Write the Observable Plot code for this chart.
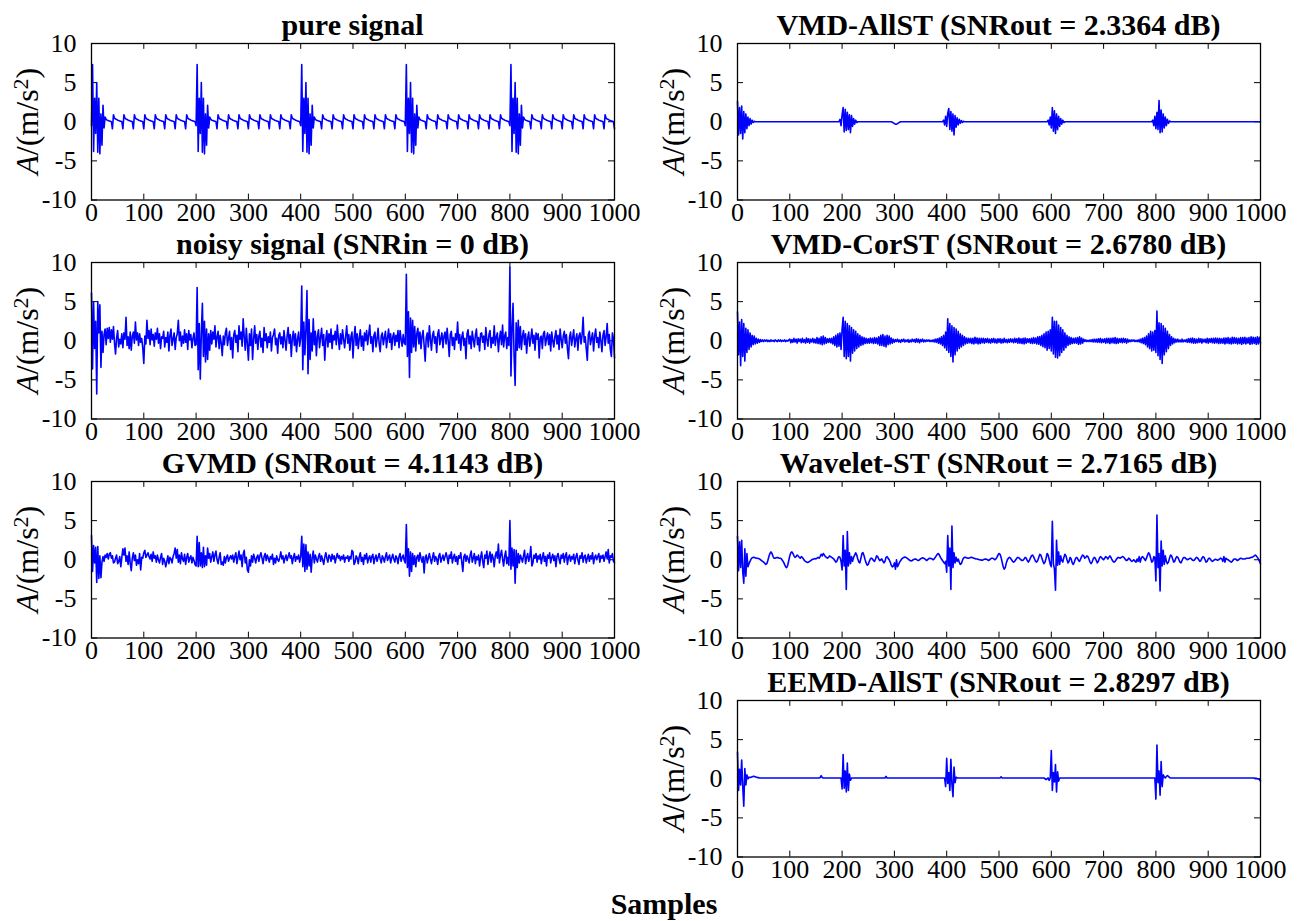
<!DOCTYPE html>
<html>
<head>
<meta charset="utf-8">
<script src="https://cdn.jsdelivr.net/npm/d3@7"></script>
<script src="https://cdn.jsdelivr.net/npm/@observablehq/plot@0.6"></script>
<style>
  body { margin: 0; background: #fff; }
  #fig { position: relative; width: 1306px; height: 921px; font-family: "Liberation Serif", "Times New Roman", serif; }
  #fig svg { position: absolute; }
  #xlabel { position: absolute; transform: translateX(-50%); white-space: nowrap; font-weight: bold; font-size: 30px; line-height: 30px; }
</style>
</head>
<body>
<div id="fig"></div>
<script>
// Axis ticks shared by every panel
const xTicks = [0, 100, 200, 300, 400, 500, 600, 700, 800, 900, 1000];
const yTicks = [-10, -5, 0, 5, 10];
// Samples are listed every 2 points, from 0 to 1000
const sampleStep = 2;

const pureSignal = [
  -0.5,7.3,-3.8,3.0,-1.5,5.0,-3.9,3.0,-4.1,1.0,-3.0,2.1,-0.8,0.6,0.3,0.2,0.15,0.1,0.05,0.0,-0.9,0.9,0.45,0.35,0.3,0.2,0.15,0.1,0.05,0.0,-0.9,0.9,0.45,0.35,0.3,0.2,0.15,0.1,0.05,0.0,-0.9,0.9,0.45,0.35,0.3,0.2,0.15,0.1,0.05,0.0,
  -0.9,0.9,0.45,0.35,0.3,0.2,0.15,0.1,0.05,0.0,-0.9,0.9,0.45,0.35,0.3,0.2,0.15,0.1,0.05,0.0,-0.9,0.9,0.45,0.35,0.3,0.2,0.15,0.1,0.05,0.0,-0.9,0.9,0.45,0.35,0.3,0.2,0.15,0.1,0.05,0.0,-0.9,0.9,0.45,0.35,0.3,0.2,0.15,0.1,0.05,0.0,
  -0.5,7.3,-3.8,3.0,-1.5,5.0,-3.9,3.0,-4.1,1.0,-3.0,2.1,-0.8,0.6,0.3,0.2,0.15,0.1,0.05,0.0,-0.9,0.9,0.45,0.35,0.3,0.2,0.15,0.1,0.05,0.0,-0.9,0.9,0.45,0.35,0.3,0.2,0.15,0.1,0.05,0.0,-0.9,0.9,0.45,0.35,0.3,0.2,0.15,0.1,0.05,0.0,
  -0.9,0.9,0.45,0.35,0.3,0.2,0.15,0.1,0.05,0.0,-0.9,0.9,0.45,0.35,0.3,0.2,0.15,0.1,0.05,0.0,-0.9,0.9,0.45,0.35,0.3,0.2,0.15,0.1,0.05,0.0,-0.9,0.9,0.45,0.35,0.3,0.2,0.15,0.1,0.05,0.0,-0.9,0.9,0.45,0.35,0.3,0.2,0.15,0.1,0.05,0.0,
  -0.5,7.3,-3.8,3.0,-1.5,5.0,-3.9,3.0,-4.1,1.0,-3.0,2.1,-0.8,0.6,0.3,0.2,0.15,0.1,0.05,0.0,-0.9,0.9,0.45,0.35,0.3,0.2,0.15,0.1,0.05,0.0,-0.9,0.9,0.45,0.35,0.3,0.2,0.15,0.1,0.05,0.0,-0.9,0.9,0.45,0.35,0.3,0.2,0.15,0.1,0.05,0.0,
  -0.9,0.9,0.45,0.35,0.3,0.2,0.15,0.1,0.05,0.0,-0.9,0.9,0.45,0.35,0.3,0.2,0.15,0.1,0.05,0.0,-0.9,0.9,0.45,0.35,0.3,0.2,0.15,0.1,0.05,0.0,-0.9,0.9,0.45,0.35,0.3,0.2,0.15,0.1,0.05,0.0,-0.9,0.9,0.45,0.35,0.3,0.2,0.15,0.1,0.05,0.0,
  -0.5,7.3,-3.8,3.0,-1.5,5.0,-3.9,3.0,-4.1,1.0,-3.0,2.1,-0.8,0.6,0.3,0.2,0.15,0.1,0.05,0.0,-0.9,0.9,0.45,0.35,0.3,0.2,0.15,0.1,0.05,0.0,-0.9,0.9,0.45,0.35,0.3,0.2,0.15,0.1,0.05,0.0,-0.9,0.9,0.45,0.35,0.3,0.2,0.15,0.1,0.05,0.0,
  -0.9,0.9,0.45,0.35,0.3,0.2,0.15,0.1,0.05,0.0,-0.9,0.9,0.45,0.35,0.3,0.2,0.15,0.1,0.05,0.0,-0.9,0.9,0.45,0.35,0.3,0.2,0.15,0.1,0.05,0.0,-0.9,0.9,0.45,0.35,0.3,0.2,0.15,0.1,0.05,0.0,-0.9,0.9,0.45,0.35,0.3,0.2,0.15,0.1,0.05,0.0,
  -0.5,7.3,-3.8,3.0,-1.5,5.0,-3.9,3.0,-4.1,1.0,-3.0,2.1,-0.8,0.6,0.3,0.2,0.15,0.1,0.05,0.0,-0.9,0.9,0.45,0.35,0.3,0.2,0.15,0.1,0.05,0.0,-0.9,0.9,0.45,0.35,0.3,0.2,0.15,0.1,0.05,0.0,-0.9,0.9,0.45,0.35,0.3,0.2,0.15,0.1,0.05,0.0,
  -0.9,0.9,0.45,0.35,0.3,0.2,0.15,0.1,0.05,0.0,-0.9,0.9,0.45,0.35,0.3,0.2,0.15,0.1,0.05,0.0,-0.9,0.9,0.45,0.35,0.3,0.2,0.15,0.1,0.05,0.0,-0.9,0.9,0.45,0.35,0.3,0.2,0.15,0.1,0.05,0.0,-0.9,0.9,0.45,0.35,0.3,0.2,0.15,0.1,0.05,0.0,
  -0.9
];

const noisySignal = [
  6.1,-3.6,4.9,-1.0,2.5,-6.8,5.0,1.0,4.6,-3.4,1.2,-1.5,0.8,1.5,-0.5,1.6,0.3,1.7,-0.2,1.4,0.2,1.8,-0.3,-1.7,0.4,1.3,-0.8,0.2,-0.4,0.9,-0.9,1.0,0.2,3.0,-0.6,0.5,-1.0,1.1,-1.2,0.6,1.1,-0.3,2.4,0.1,1.0,-0.6,0.9,-0.2,0.3,-0.9,
  -2.9,0.6,-0.4,2.6,0.3,1.3,-0.5,1.5,0.1,0.8,-0.7,1.0,0.2,1.6,-0.3,0.9,-1.0,0.5,0.3,1.2,-0.8,0.4,-0.2,1.1,-1.3,0.7,1.5,-0.6,0.2,1.0,-1.1,0.4,0.9,2.6,0.0,1.1,-0.7,0.6,-0.3,1.4,-0.2,0.9,-1.1,1.3,0.1,0.8,-0.9,0.3,1.0,-0.6,
  -0.5,6.8,-3.7,2.2,-4.9,1.0,4.8,-2.0,2.5,-2.7,1.5,-2.4,0.9,-1.2,1.3,-0.4,1.1,0.2,1.9,-0.8,0.5,1.2,-1.0,0.7,-0.3,-1.9,0.6,-0.5,1.0,1.6,-0.6,0.3,1.2,-1.1,0.4,-2.2,0.8,1.3,-0.2,0.7,-1.4,1.9,0.2,1.1,-0.7,2.8,0.5,-1.2,1.6,-0.4,
  -2.5,0.9,-0.6,1.5,-2.4,0.2,1.9,-0.3,0.8,-1.1,0.6,1.2,-0.8,0.3,-1.5,1.7,0.0,0.9,-0.9,0.5,-0.2,1.1,-1.3,0.4,0.8,1.5,-0.5,0.3,-1.6,0.7,1.0,-0.4,0.5,-0.9,1.3,0.1,-1.2,0.6,1.7,-0.3,0.8,-2.0,0.4,1.2,-0.6,0.9,-1.4,0.2,1.1,-0.7,
  0.3,7.0,-3.7,2.4,-1.8,1.5,6.4,-4.2,2.7,-2.4,1.0,-1.3,2.8,-0.5,1.2,-1.9,0.6,1.4,-0.9,0.4,1.6,-0.6,0.8,-2.5,0.2,1.3,-0.8,0.9,-0.2,1.5,-1.0,0.7,0.1,1.2,-0.5,2.0,0.3,-1.1,0.9,-0.4,1.4,0.2,-0.9,0.6,1.9,-0.3,0.8,-1.2,0.5,1.1,
  -2.2,0.4,1.8,-0.6,0.9,-1.0,0.3,1.4,-0.7,0.6,-1.2,1.0,0.0,1.3,-0.5,0.8,2.0,-0.3,0.5,-1.4,0.7,1.1,-0.8,0.2,1.6,-0.4,-1.4,0.6,1.0,-0.5,0.4,1.2,-0.9,0.3,1.5,-0.2,0.9,-1.1,0.5,1.0,-0.6,0.7,-0.1,1.3,-0.9,1.3,0.2,-0.7,0.8,-0.3,
  -0.5,8.5,-2.0,3.7,-4.7,2.9,-1.5,2.6,-0.8,1.8,-1.3,0.9,1.6,-0.4,1.1,-1.0,0.6,1.3,-0.6,-2.6,0.4,1.0,-0.8,1.9,0.2,-1.2,0.7,1.2,-0.3,0.5,-1.5,0.9,1.4,-0.5,0.3,1.0,-0.9,0.6,1.1,-0.4,1.6,0.0,-2.0,0.8,1.2,-0.6,0.4,-1.1,0.9,0.1,
  2.4,-0.3,0.8,-1.2,0.5,1.1,-0.6,0.3,-2.3,0.9,1.4,-0.4,0.6,-1.0,1.2,0.2,-0.8,0.7,1.5,-0.5,0.4,-1.3,0.9,1.0,-0.2,0.6,-1.1,1.7,0.1,-0.7,0.8,1.3,-0.9,0.4,-0.3,1.9,-0.6,0.5,1.0,-1.4,0.3,1.2,-0.5,2.0,-0.8,0.6,1.1,-1.0,0.4,-0.6,
  9.4,-4.5,1.5,4.8,-2.0,-5.7,2.3,-1.2,2.6,-0.9,1.8,-1.1,0.6,1.3,-0.5,0.9,-1.6,0.4,1.1,-0.7,0.3,1.5,-0.3,0.7,-1.2,1.0,0.2,0.9,-2.2,0.4,0.6,-1.0,0.9,1.2,-0.6,0.3,1.0,-0.5,0.8,-1.3,1.1,0.0,-0.8,0.5,1.3,-0.4,0.7,-1.1,1.5,0.2,
  -0.9,0.6,1.2,-0.3,0.8,-1.0,-2.3,0.5,1.1,-0.6,0.4,1.4,-0.8,0.2,0.9,-1.2,0.6,1.0,-0.4,0.7,3.0,-0.2,0.5,-1.0,-2.5,0.8,1.2,-0.5,0.3,1.0,-1.3,0.6,1.5,-0.2,0.4,-0.9,1.1,0.0,-1.4,0.7,1.3,-0.6,0.5,2.2,-0.3,0.8,-1.1,-2.0,1.0,0.3,
  -2.2
];

const gvmdSignal = [
  3.1,-1.5,1.8,-0.4,1.6,-2.9,1.7,-2.4,0.5,-2.3,-0.3,0.4,-0.2,0.6,0.3,0.8,0.1,0.7,0.9,0.2,0.5,-0.4,-0.3,0.2,0.6,-0.5,-0.2,0.4,-0.9,0.3,1.4,0.6,1.5,-0.2,0.5,-0.6,1.0,-0.4,-1.4,0.2,0.9,-0.1,0.6,-0.7,0.0,-0.5,0.8,-1.3,0.3,0.2,
  0.9,1.2,0.3,0.6,0.9,0.4,0.1,0.7,-0.2,1.0,0.2,0.5,-0.3,0.6,0.0,-0.4,0.3,0.8,-0.6,0.2,-0.2,-0.9,-0.2,0.5,-0.5,0.3,0.1,-0.4,0.4,0.8,1.5,0.2,1.3,-0.3,0.6,-0.5,0.9,0.1,-0.2,0.7,-0.6,0.3,0.8,-0.3,0.2,0.5,-0.4,0.3,-0.1,-0.6,
  -0.8,3.0,-0.9,2.2,-0.8,0.9,-1.0,1.6,-0.9,0.5,-0.7,1.5,0.2,0.8,-0.3,0.4,1.0,-0.2,0.6,1.1,0.0,-0.5,0.3,0.9,-0.6,-0.3,-0.7,0.4,-0.4,0.3,0.6,-0.2,0.2,0.5,0.1,0.6,-0.3,0.4,0.9,-0.5,0.3,1.1,0.0,0.6,-0.9,0.7,1.2,-0.4,0.3,-1.3,
  -1.6,0.0,-0.8,0.5,-0.3,0.7,0.2,-0.4,0.3,0.6,-0.2,0.5,0.9,0.2,-0.5,0.4,0.8,-0.1,0.6,0.2,-0.3,0.4,0.1,0.7,-0.6,0.2,-0.4,0.5,0.0,-0.2,0.3,1.0,0.1,0.5,-0.4,0.2,0.6,-0.1,0.4,0.9,0.2,0.5,-0.5,0.3,0.8,-0.2,0.4,0.1,0.6,-0.3,
  0.4,3.0,-0.9,2.0,-1.5,1.9,-1.2,1.0,-0.8,0.7,-1.6,0.3,1.1,-0.4,0.6,0.1,-0.3,0.4,0.8,-0.2,0.5,0.0,-0.6,0.3,0.9,0.2,-0.3,0.6,0.4,-0.2,0.7,0.1,0.5,-0.4,0.3,0.8,0.2,0.5,-0.1,0.4,0.1,0.6,-0.3,0.3,0.2,0.5,-0.2,0.4,0.1,1.2,
  1.0,-0.6,-0.3,0.5,0.2,-0.5,0.4,0.9,-0.2,0.3,-0.6,0.6,0.1,0.8,-0.4,0.2,0.5,-0.3,0.4,0.7,-0.5,0.2,0.6,-0.2,0.3,0.8,0.1,-0.4,0.5,0.2,-0.3,0.4,0.9,-0.1,0.3,0.6,-0.4,0.2,0.7,0.1,-0.3,0.5,0.2,-0.5,0.4,0.8,-0.2,0.3,0.6,-0.1,
  -0.4,4.5,-1.0,1.4,-2.1,1.0,-1.5,0.8,-0.6,0.5,-0.9,0.3,0.6,-0.2,0.9,0.2,-0.3,0.4,-1.7,0.3,0.6,-0.4,0.2,0.8,0.1,-0.5,0.3,0.9,-0.2,0.4,0.1,-0.6,0.5,0.8,-0.3,0.2,0.6,-0.1,0.4,0.9,0.3,-0.5,0.6,0.2,1.0,-0.4,0.3,0.7,-0.2,0.4,
  -0.6,0.5,0.2,0.9,-0.3,-1.5,0.4,0.7,-0.2,0.5,0.1,-0.4,0.6,1.1,-0.3,0.2,0.8,-0.5,0.4,0.0,0.6,-0.8,0.3,1.0,-0.2,-1.0,0.6,0.2,1.1,-0.6,0.4,1.0,-0.3,0.7,0.2,-0.9,0.5,1.0,0.2,2.0,-0.4,0.6,1.2,0.1,-0.8,0.5,1.1,-0.5,0.3,-0.7,
  5.0,-1.2,1.5,-0.8,1.3,-3.0,1.2,-1.0,0.8,-0.4,0.6,0.2,-0.3,0.5,1.2,-0.5,0.3,0.8,-0.2,0.4,1.7,-0.8,-0.4,0.6,0.2,0.8,-0.3,0.5,0.1,0.7,-0.5,0.3,0.9,-0.2,0.4,-0.8,0.6,0.2,0.9,-0.4,0.3,0.7,-0.1,0.5,-0.9,0.4,0.8,0.1,-0.5,0.6,
  0.2,0.8,-0.3,0.5,0.9,-0.6,0.3,0.6,-0.2,0.4,0.1,0.7,-0.5,0.3,0.8,0.0,-0.6,0.5,0.2,0.9,-0.3,0.4,0.6,-0.4,0.2,0.7,-0.2,0.5,0.1,0.9,-0.5,0.3,0.6,0.0,0.4,0.8,-0.3,0.5,0.2,0.6,-0.2,0.4,1.0,0.1,1.3,-0.4,0.5,0.3,0.8,-0.2,
  -0.4
];

const vmdAllSTSignal = [
  2.6,-1.7,1.8,-1.5,2.0,-2.2,1.3,-1.4,1.0,-0.9,0.6,-0.5,0.4,-0.3,0.2,-0.1,0.05,0,0,0,0,0,0,0,0,0,0,0,0,0,0,0,0,0,0,0,0,0,0,0,0,0,0,0,0,0,0,0,0,0,
  0,0,0,0,0,0,0,0,0,0,0,0,0,0,0,0,0,0,0,0,0,0,0,0,0,0,0,0,0,0,0,0,0,0,0,0,0,0,0,0,0,0,0,0,0,0,0,0,0.3,-0.5,
  0.9,1.8,-1.3,1.6,-1.1,1.2,-1.0,0.9,-1.4,0.8,-0.6,0.4,-0.3,0.2,-0.1,0,0,0,0,0,0,0,0,0,0,0,0,0,0,0,0,0,0,0,0,0,0,0,0,0,0,0,0,0,0,0,0,0,-0.05,-0.15,
  -0.25,-0.3,-0.3,-0.25,-0.15,-0.05,0,0,0,0,0,0,0,0,0,0,0,0,0,0,0,0,0,0,0,0,0,0,0,0,0,0,0,0,0,0,0,0,0,0,0,0,0,0,0,0,0,0.2,-0.4,0.7,
  -0.6,1.1,1.7,-1.0,1.3,-1.2,1.0,-1.7,0.8,-0.7,0.5,-0.4,0.3,-0.2,0.15,-0.1,0.05,0,0,0,0,0,0,0,0,0,0,0,0,0,0,0,0,0,0,0,0,0,0,0,0,0,0,0,0,0,0,0,0,0,
  0,0,0,0,0,0,0,0,0,0,0,0,0,0,0,0,0,0,0,0,0,0,0,0,0,0,0,0,0,0,0,0,0,0,0,0,0,0,0,0,0,0,0,0,0,0,0,0.2,-0.4,0.6,
  -0.8,1.8,-1.2,1.4,-1.5,1.0,-1.0,0.7,-0.6,0.4,-0.3,0.2,-0.1,0,0,0,0,0,0,0,0,0,0,0,0,0,0,0,0,0,0,0,0,0,0,0,0,0,0,0,0,0,0,0,0,0,0,0,0,0,
  0,0,0,0,0,0,0,0,0,0,0,0,0,0,0,0,0,0,0,0,0,0,0,0,0,0,0,0,0,0,0,0,0,0,0,0,0,0,0,0,0,0,0,0,0,0,0,0.2,-0.5,0.7,
  -0.9,1.2,-1.0,2.7,-1.4,1.5,-1.3,1.0,-0.8,0.6,-0.5,0.3,-0.2,0.1,0,0,0,0,0,0,0,0,0,0,0,0,0,0,0,0,0,0,0,0,0,0,0,0,0,0,0,0,0,0,0,0,0,0,0,0,
  0,0,0,0,0,0,0,0,0,0,0,0,0,0,0,0,0,0,0,0,0,0,0,0,0,0,0,0,0,0,0,0,0,0,0,0,0,0,0,0,0,0,0,0,0,0,0,0,0,0,
  0
];

const vmdCorSTSignal = [
  3.7,-1.8,2.4,-3.2,2.7,-2.0,2.2,-2.6,1.6,-1.5,1.4,-1.1,1.0,-0.8,0.7,-0.5,0.6,-0.4,0.3,-0.3,0.2,-0.2,0.15,-0.1,0.1,-0.1,0.1,-0.05,0.1,-0.1,0.05,-0.1,0.1,-0.05,0.05,-0.1,0.1,0,-0.1,0.1,-0.05,0.1,-0.1,0.05,-0.05,0.1,-0.1,0.05,-0.05,0.1,
  0.2,-0.25,0.15,-0.2,0.3,-0.15,0.2,-0.3,0.25,-0.1,0.2,-0.25,0.3,-0.2,0.15,-0.3,0.35,-0.2,0.25,-0.3,0.2,-0.15,0.3,-0.25,0.2,-0.3,0.4,-0.35,0.3,-0.4,0.5,-0.5,0.6,-0.4,0.4,-0.3,0.25,-0.2,0.3,-0.25,0.3,-0.4,0.5,-0.6,0.7,-0.8,0.9,-0.7,1.0,-1.1,
  1.5,3.0,-2.0,2.5,-2.3,2.2,-2.0,1.9,-2.6,1.7,-1.6,1.4,-1.3,1.2,-1.0,0.9,-0.8,0.7,-0.6,0.5,-0.5,0.4,-0.35,0.3,-0.3,0.25,-0.3,0.35,-0.25,0.3,-0.35,0.4,-0.3,0.35,-0.4,0.5,-0.6,0.7,-0.6,0.8,-0.7,0.6,-0.8,0.7,-0.5,0.6,-0.4,0.35,-0.3,0.2,
  -0.2,0.15,-0.1,0.2,-0.15,0.1,-0.2,0.15,-0.1,0.2,-0.15,0.1,-0.1,0.15,-0.2,0.1,-0.15,0.2,-0.1,0.15,-0.2,0.25,-0.15,0.2,-0.25,0.15,-0.1,0.2,-0.15,0.1,-0.1,0.1,-0.05,0.1,-0.1,0.05,-0.1,0.1,-0.15,0.2,-0.2,0.25,-0.3,0.35,-0.4,0.5,-0.6,0.7,-0.9,1.1,
  -1.2,2.8,-1.5,2.2,-2.0,1.9,-2.7,1.7,-1.8,1.5,-1.3,1.2,-1.0,0.9,-0.8,0.7,-0.6,0.5,-0.4,0.35,-0.3,0.3,-0.25,0.3,-0.35,0.3,-0.4,0.45,-0.3,0.35,-0.4,0.3,-0.35,0.3,-0.25,0.3,-0.3,0.25,-0.2,0.3,-0.25,0.2,-0.3,0.25,-0.2,0.3,-0.25,0.2,-0.3,0.25,
  -0.2,0.25,-0.3,0.2,-0.25,0.3,-0.2,0.15,-0.25,0.2,-0.2,0.25,-0.15,0.2,-0.25,0.3,-0.2,0.25,-0.3,0.35,-0.3,0.25,-0.35,0.3,-0.4,0.35,-0.3,0.25,-0.2,0.25,-0.3,0.3,-0.35,0.4,-0.3,0.35,-0.4,0.5,-0.45,0.55,-0.6,0.7,-0.75,0.9,-0.9,1.1,-1.2,1.2,-1.0,1.4,
  -1.3,3.0,-1.7,2.5,-2.1,2.5,-2.2,2.0,-1.9,1.7,-1.5,1.4,-1.2,1.0,-0.9,0.7,-0.6,0.5,-0.45,0.4,-0.35,0.3,-0.3,0.35,-0.3,0.4,-0.45,0.5,-0.4,0.35,-0.3,0.2,-0.1,0.1,-0.1,0.05,-0.1,0.1,-0.1,0.15,-0.15,0.2,-0.15,0.2,-0.2,0.25,-0.2,0.3,-0.25,0.2,
  -0.2,0.25,-0.3,0.3,-0.25,0.3,-0.35,0.3,-0.25,0.35,-0.3,0.4,-0.35,0.3,-0.3,0.25,-0.2,0.3,-0.25,0.3,-0.2,0.25,-0.3,0.2,-0.15,0.1,-0.1,0.1,-0.05,0.1,-0.1,0.05,-0.1,0.1,-0.15,0.2,-0.25,0.3,-0.35,0.4,-0.5,0.6,-0.8,0.9,-1.0,1.2,-1.3,1.1,-1.2,1.3,
  -1.5,3.8,-1.9,2.3,-2.4,2.2,-2.9,1.9,-1.8,1.6,-1.4,1.2,-1.0,0.8,-0.6,0.5,-0.4,0.3,-0.25,0.2,-0.15,0.2,-0.15,0.1,-0.15,0.2,-0.15,0.1,-0.1,0.15,-0.2,0.25,-0.2,0.3,-0.25,0.35,-0.3,0.25,-0.3,0.2,-0.25,0.3,-0.2,0.25,-0.3,0.2,-0.15,0.2,-0.25,0.3,
  -0.3,0.25,-0.2,0.3,-0.25,0.3,-0.3,0.35,-0.25,0.3,-0.35,0.3,-0.3,0.25,-0.3,0.35,-0.4,0.35,-0.3,0.4,-0.35,0.3,-0.4,0.45,-0.35,0.4,-0.3,0.35,-0.4,0.3,-0.35,0.4,-0.45,0.4,-0.35,0.45,-0.4,0.35,-0.3,0.4,-0.45,0.5,-0.4,0.45,-0.35,0.4,-0.45,0.5,-0.4,0.45,
  -0.3
];

const waveletSTSignal = [
  3.0,-1.4,2.3,-1.0,2.5,-1.5,-3.0,1.4,-2.1,0.8,-0.9,-0.5,-0.2,0.1,0.25,0.3,0.3,0.25,0.2,0.2,0.15,0.1,0.0,-0.1,-0.2,-0.3,-0.45,-0.6,-0.5,-0.1,0.4,0.8,1.0,0.8,0.4,0.2,0.2,0.25,0.3,0.25,0.2,0.2,0.1,-0.1,-0.3,-0.6,-0.9,-1.0,-0.7,-0.1,
  0.5,0.9,1.0,0.8,0.5,0.3,0.4,0.6,0.5,0.3,0.2,0.4,0.3,0.1,-0.1,-0.2,-0.3,-0.35,-0.3,-0.2,-0.1,0.0,0.05,0.1,0.15,0.1,0.2,0.3,0.2,0.4,0.7,0.5,0.8,0.6,0.4,0.3,0.2,0.3,0.5,0.4,0.3,0.2,0.1,-0.1,-0.3,-0.2,0.2,0.4,0.3,-0.2,
  -1.3,3.1,-0.8,1.2,-3.8,3.6,-0.8,0.9,-0.5,0.4,-0.2,0.3,0.6,0.9,0.6,0.1,-0.3,-0.4,0.2,0.8,0.9,0.5,0.0,-0.4,-0.7,-0.6,-0.2,0.1,0.2,0.1,-0.1,-0.2,0.1,0.5,0.4,0.1,-0.1,0.0,0.1,-0.2,-0.4,-0.2,0.3,0.4,0.2,0.0,-0.3,-0.7,-0.9,-0.8,
  -0.4,-1.2,0.0,-0.9,-0.6,-0.3,-0.1,0.1,0.2,0.3,0.35,0.3,0.2,0.1,0.0,-0.1,-0.15,-0.1,0.0,0.05,0.1,0.05,-0.05,-0.1,0.0,0.1,0.2,0.25,0.2,0.1,0.0,-0.1,0.05,0.15,0.2,0.15,0.1,0.0,0.1,0.3,0.5,0.7,0.8,0.6,0.3,0.1,-0.1,-0.3,-0.5,-0.2,
  -1.6,3.1,-0.8,1.5,-3.8,4.3,-1.0,0.9,-0.4,0.3,-0.2,0.1,-0.3,-0.6,-0.5,-0.1,0.2,0.3,0.3,0.25,0.2,0.2,0.25,0.3,0.3,0.25,0.2,0.15,0.1,0.1,0.05,0.0,0.0,-0.05,-0.05,0.0,0.05,0.1,0.05,0.0,-0.1,0.0,0.1,0.2,0.2,0.1,0.0,0.1,0.3,0.6,
  0.8,0.7,0.3,-0.3,-0.9,-1.2,-1.0,-0.4,0.0,0.2,0.3,0.2,0.0,-0.2,-0.3,-0.2,0.0,0.2,0.3,0.25,0.1,0.0,-0.1,-0.05,0.1,0.3,0.2,-0.1,-0.3,-0.1,0.2,0.5,0.6,0.4,0.1,-0.2,-0.3,-0.1,0.3,0.7,0.6,0.2,-0.2,-0.5,-0.3,0.2,0.8,0.6,0.0,-0.6,
  -0.9,4.9,-0.5,-1.2,-3.9,2.5,-0.7,1.0,-0.6,0.5,-0.1,-0.3,0.3,0.7,0.5,0.0,-0.4,-0.2,0.3,0.1,-0.4,-0.6,-0.3,0.1,0.3,0.2,-0.1,-0.2,0.1,0.4,0.6,0.5,0.2,0.3,0.5,0.4,0.1,-0.3,-0.5,-0.3,0.1,0.3,0.2,-0.1,-0.4,-0.2,0.2,0.4,0.3,0.1,
  0.0,0.2,0.4,0.3,0.1,0.3,0.5,0.3,0.0,-0.2,-0.3,-0.2,0.0,0.2,0.3,0.25,0.2,0.3,0.4,0.35,0.2,0.0,-0.1,0.0,0.2,0.1,-0.1,-0.2,-0.1,0.0,-0.2,-0.3,0.1,-0.2,0.4,-0.3,0.2,0.4,0.3,0.1,-0.1,0.2,0.6,0.9,0.7,0.2,-0.3,-0.2,0.4,0.3,
  -2.7,5.7,-1.0,0.8,-4.0,2.4,-0.8,1.2,-0.6,0.5,-0.2,-0.5,-0.3,0.2,0.6,0.5,0.1,-0.3,-0.2,0.2,0.4,0.3,0.0,-0.3,-0.4,-0.1,0.2,0.3,0.25,0.1,0.0,0.05,0.15,0.2,0.1,-0.05,-0.1,0.0,0.2,0.3,0.2,0.0,-0.2,-0.1,0.2,0.4,0.3,0.0,-0.3,-0.2,
  0.1,0.2,0.1,-0.1,-0.2,-0.1,0.0,0.05,0.0,-0.05,0.0,0.1,0.2,0.1,-0.2,0.4,-0.3,0.2,0.05,0.0,-0.1,-0.2,-0.3,-0.2,0.0,0.1,0.1,0.0,-0.1,0.0,0.1,0.2,0.15,0.1,0.1,0.1,0.15,0.2,0.2,0.2,0.25,0.3,0.3,0.4,0.5,0.6,0.5,0.3,0.1,-0.2,
  -0.5
];

const eemdAllSTSignal = [
  3.4,-1.5,1.2,-0.8,2.4,-1.0,-3.5,1.3,-0.8,0.5,0.0,0.2,0.15,0.2,0.25,0.3,0.3,0.25,0.2,0.15,0.15,0.1,0.1,0.1,0.1,0.1,0.1,0.1,0.1,0.1,0.1,0.1,0.1,0.1,0.1,0.1,0.1,0.1,0.1,0.1,0.1,0.1,0.1,0.1,0.1,0.1,0.1,0.1,0.1,0.1,
  0.1,0.1,0.1,0.1,0.1,0.1,0.1,0.1,0.1,0.1,0.1,0.1,0.1,0.1,0.1,0.1,0.1,0.1,0.1,0.1,0.1,0.1,0.1,0.1,0.1,0.1,0.1,0.1,0.1,0.15,0.4,0.15,0.1,0.1,0.1,0.1,0.1,0.1,0.1,0.1,0.1,0.1,0.1,0.1,0.1,0.1,0.1,0.1,0.1,0.1,
  -1.3,3.1,-1.2,1.0,-1.7,2.0,-1.5,0.6,-0.2,0.1,0.1,0.1,0.1,0.1,0.1,0.1,0.1,0.1,0.1,0.1,0.1,0.1,0.1,0.1,0.1,0.1,0.1,0.1,0.1,0.1,0.1,0.1,0.1,0.1,0.1,0.1,0.1,0.1,0.1,0.1,0.1,0.1,0.3,0.1,0.1,0.1,0.1,0.1,0.1,0.1,
  0.1,0.1,0.1,0.1,0.1,0.1,0.1,0.1,0.1,0.1,0.1,0.1,0.1,0.1,0.1,0.1,0.1,0.1,0.1,0.1,0.1,0.1,0.1,0.1,0.1,0.1,0.1,0.1,0.1,0.1,0.1,0.1,0.1,0.1,0.1,0.1,0.1,0.1,0.1,0.1,0.1,0.1,0.1,0.1,0.1,0.1,0.1,0.1,0.1,-1.0,
  2.6,-0.6,0.8,-1.5,2.5,-0.7,-2.3,1.5,-0.5,0.2,0.1,0.1,0.1,0.1,0.1,0.1,0.1,0.1,0.1,0.1,0.1,0.1,0.1,0.1,0.1,0.1,0.1,0.1,0.1,0.1,0.1,0.1,0.1,0.1,0.1,0.1,0.1,0.1,0.1,0.1,0.1,0.1,0.1,0.1,0.1,0.1,0.1,0.1,0.1,0.1,
  0.1,0.1,0.25,0.1,0.1,0.1,0.1,0.1,0.1,0.1,0.1,0.1,0.1,0.1,0.1,0.1,0.1,0.1,0.1,0.1,0.1,0.1,0.1,0.1,0.1,0.1,0.1,0.1,0.1,0.1,0.1,0.1,0.1,0.1,0.1,0.1,0.1,0.1,0.1,0.1,0.1,0.1,0.1,0.1,0.0,-0.1,0.0,0.1,-0.2,0.1,
  3.6,-1.5,0.8,-0.4,1.8,-1.7,0.9,-0.3,0.1,0.1,0.1,0.1,0.1,0.1,0.1,0.1,0.1,0.1,0.1,0.1,0.1,0.1,0.1,0.1,0.1,0.1,0.1,0.1,0.1,0.1,0.1,0.1,0.1,0.1,0.1,0.1,0.1,0.1,0.1,0.1,0.1,0.1,0.1,0.1,0.1,0.1,0.1,0.1,0.1,0.1,
  0.1,0.1,0.1,0.1,0.1,0.1,0.1,0.1,0.1,0.1,0.1,0.1,0.1,0.1,0.1,0.1,0.1,0.1,0.1,0.1,0.1,0.1,0.1,0.1,0.1,0.1,0.1,0.1,0.1,0.1,0.1,0.1,0.1,0.1,0.1,0.1,0.1,0.1,0.1,0.1,0.1,0.1,0.1,0.1,0.1,0.1,0.1,0.1,0.1,0.1,
  -2.6,4.3,-0.5,1.0,-2.1,2.2,-1.0,0.5,0.2,0.1,0.3,0.4,0.3,0.15,0.1,0.1,0.1,0.1,0.1,0.1,0.1,0.1,0.1,0.1,0.1,0.1,0.1,0.1,0.1,0.1,0.1,0.1,0.1,0.1,0.1,0.1,0.1,0.1,0.1,0.1,0.1,0.1,0.1,0.1,0.1,0.1,0.1,0.1,0.1,0.1,
  0.1,0.1,0.1,0.1,0.1,0.1,0.1,0.1,0.1,0.1,0.1,0.1,0.1,0.1,0.1,0.1,0.1,0.1,0.1,0.1,0.1,0.1,0.1,0.1,0.1,0.1,0.1,0.1,0.1,0.1,0.1,0.1,0.1,0.1,0.1,0.1,0.1,0.1,0.1,0.1,0.1,0.1,0.1,0.1,0.1,0.05,0.05,0.0,0.0,-0.1,
  -0.3
];

const panelTitles = [
  "pure signal",
  "noisy signal (SNRin = 0 dB)",
  "GVMD (SNRout = 4.1143 dB)",
  "VMD-AllST (SNRout = 2.3364 dB)",
  "VMD-CorST (SNRout = 2.6780 dB)",
  "Wavelet-ST (SNRout = 2.7165 dB)",
  "EEMD-AllST (SNRout = 2.8297 dB)"
];
const panelSeries = [pureSignal, noisySignal, gvmdSignal, vmdAllSTSignal, vmdCorSTSignal, waveletSTSignal, eemdAllSTSignal];
const panelColumn = [0, 0, 0, 1, 1, 1, 1];
const panelRow = [0, 1, 2, 0, 1, 2, 3];

// Page geometry of the plotting frames
const frameLeft = [91, 737];
const frameTop0 = 42.5;
const rowPitch = 219;
const frameW = 523;
const frameH = 156.5;
const mL = 91, mR = 40, mT = 44, mB = 40;
const serif = '"Liberation Serif", "Times New Roman", serif';

const fig = document.getElementById("fig");

panelSeries.forEach((values, k) => {
  const svg = Plot.plot({
    width: mL + frameW + mR,
    height: mT + frameH + mB,
    marginLeft: mL, marginRight: mR, marginTop: mT, marginBottom: mB,
    style: {background: "transparent", overflow: "visible", fontFamily: serif, fontSize: "26px", color: "black"},
    x: {domain: [0, 1000], ticks: xTicks, tickSize: 0, tickPadding: 3, tickFormat: d => String(d), label: null},
    y: {domain: [-10, 10], ticks: yTicks, tickSize: 0, tickPadding: 15, tickFormat: d => String(d), label: null},
    marks: [
      // inward tick marks on all four sides
      Plot.ruleX(xTicks, {x: d => d, y1: () => -10, y2: () => -9.25, stroke: "black", strokeWidth: 1}),
      Plot.ruleX(xTicks, {x: d => d, y1: () => 10, y2: () => 9.25, stroke: "black", strokeWidth: 1}),
      Plot.ruleY(yTicks, {y: d => d, x1: () => 0, x2: () => 11.5, stroke: "black", strokeWidth: 1}),
      Plot.ruleY(yTicks, {y: d => d, x1: () => 1000, x2: () => 988.5, stroke: "black", strokeWidth: 1}),
      Plot.line(values, {x: (d, i) => i * sampleStep, y: d => d, stroke: "#0000ff", strokeWidth: 1.6}),
      Plot.frame({stroke: "black", strokeWidth: 1.3})
    ]
  });

  const s = d3.select(svg);
  // panel title
  s.append("text")
    .attr("x", mL + frameW / 2)
    .attr("y", mT - 8.5)
    .attr("text-anchor", "middle")
    .attr("font-family", serif)
    .attr("font-weight", "bold")
    .attr("font-size", 30)
    .attr("fill", "black")
    .text(panelTitles[k]);

  // y axis label: A/(m/s^2)
  const yl = s.append("text")
    .attr("transform", `translate(27,${mT + frameH / 2}) rotate(-90)`)
    .attr("text-anchor", "middle")
    .attr("dy", "0.35em")
    .attr("font-family", serif)
    .attr("font-size", 32)
    .attr("fill", "black");
  yl.append("tspan").attr("font-style", "italic").text("A");
  yl.append("tspan").text("/(m/s");
  yl.append("tspan").attr("dy", "-0.45em").attr("font-size", 22).text("2");
  yl.append("tspan").attr("dy", "0.31em").text(")");

  const col = panelColumn[k], row = panelRow[k];
  svg.style.left = (frameLeft[col] - mL) + "px";
  svg.style.top = (frameTop0 + rowPitch * row - mT) + "px";
  fig.appendChild(svg);
});

const xl = document.createElement("div");
xl.id = "xlabel";
xl.textContent = "Samples";
xl.style.left = "664px";
xl.style.top = "889px";
fig.appendChild(xl);
</script>
</body>
</html>
